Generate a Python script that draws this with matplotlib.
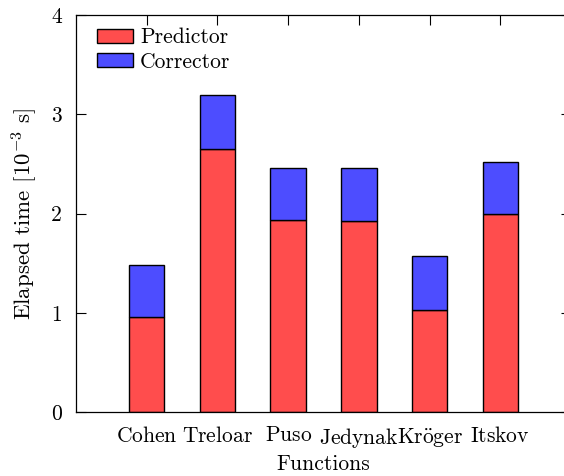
import matplotlib
matplotlib.use("Agg")
import matplotlib.pyplot as plt

functions = ["Cohen", "Treloar", "Puso", "Jedynak", r'Kr\"oger', "Itskov"]
predictor = [0.96, 2.65, 1.93, 1.92, 1.03, 1.99]
corrector = [0.52, 0.54, 0.53, 0.54, 0.54, 0.53]

plt.rcParams["mathtext.fontset"] = "cm"
plt.rcParams["font.family"] = "serif"
plt.rcParams["font.serif"] = ["cmr10"]
plt.rcParams["axes.formatter.use_mathtext"] = True
plt.rcParams["font.size"] = 15.5

RED = "#ff4d4d"
BLUE = "#4d4dff"

fig = plt.figure(figsize=(5.64, 4.76), dpi=100)
ax = fig.add_axes([76 / 564, 1 - 412 / 476, (571 - 76) / 564, (412 - 15) / 476])

pos = list(range(1, len(functions) + 1))
ax.bar(pos, predictor, width=0.5, color=RED, edgecolor="black", linewidth=1.0, label="Predictor")
ax.bar(pos, corrector, width=0.5, bottom=predictor, color=BLUE, edgecolor="black",
       linewidth=1.0, label="Corrector")

ax.set_xlim(0, 7)
ax.set_ylim(0, 4)
ax.set_yticks([0, 1, 2, 3, 4])
ax.set_yticklabels(["0", "1", "2", "3", "4"])
ax.set_xticks(pos)
ax.set_xticklabels([r"$\mathrm{%s}$" % f for f in functions])
ax.set_axisbelow(True)
ax.tick_params(direction="in", top=True, right=True, length=7, width=0.8, pad=10)
for s in ax.spines.values():
    s.set_linewidth(0.9)

ax.set_xlabel("Functions", labelpad=3)
ax.set_ylabel(r"Elapsed time [$10^{-3}$ s]", labelpad=8, fontsize=16.5)
ax.legend(loc="upper left", bbox_to_anchor=(0.016, 1.0), frameon=False, handlelength=1.7,
          handleheight=0.6, handletextpad=0.3, labelspacing=0.22, borderaxespad=0.2)

fig.savefig("out.png", dpi=100)
